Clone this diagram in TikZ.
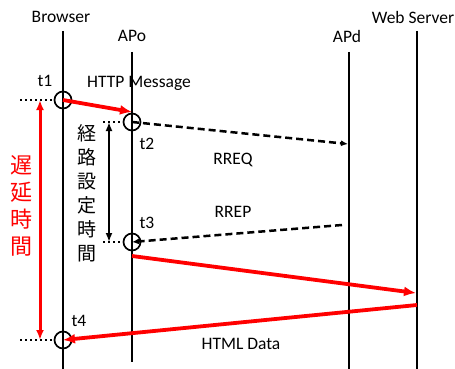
\documentclass[tikz,border=0pt]{standalone}
\usepackage{fontspec}
\setmainfont{Carlito}
\newfontfamily\jpfont{Noto Sans CJK JP}
\usetikzlibrary{arrows.meta}

\begin{document}
\begin{tikzpicture}[x=1pt,y=-1pt,>=latex,font=\fontsize{17.5}{20}\selectfont,
    life/.style={line width=2.6pt},
    msg/.style={red,line width=3.8pt,-{Latex[length=12pt,width=10pt]}},
    ctrl/.style={line width=2.5pt,dash pattern=on 7pt off 4pt,-{Latex[length=7pt,width=6pt]}},
    tick/.style={line width=2.5pt,dash pattern=on 2.2pt off 2.8pt},
    stamp/.style={circle,draw,line width=1.7pt,minimum size=17pt,inner sep=0pt}]
    \useasboundingbox (0,0) rectangle (455,369);
    % lifelines
    \node (browser) at (61,17) {Browser};
    \node (apo) at (132,36) {APo};
    \node (apd) at (347,36) {APd};
    \node (server) at (413,17) {Web Server};
    \coordinate (browserTop) at (63,31);  \coordinate (browserBot) at (63,369);
    \coordinate (apoTop) at (132,52);     \coordinate (apoBot) at (132,362);
    \coordinate (apdTop) at (349,52);     \coordinate (apdBot) at (349,369);
    \coordinate (serverTop) at (417,31);  \coordinate (serverBot) at (417,369);
    \draw[life] (browserTop) -- (browserBot);
    \draw[life] (apoTop) -- (apoBot);
    \draw[life] (apdTop) -- (apdBot);
    \draw[life] (serverTop) -- (serverBot);
    % time stamps
    \node[stamp] (t1) at (63,100) {};
    \node[stamp] (t2) at (132,122) {};
    \node[stamp] (t3) at (132,242) {};
    \node[stamp] (t4) at (63,340) {};
    \node (t1lbl) at (45,81) {t1};
    \node (t2lbl) at (147,144) {t2};
    \node (t3lbl) at (147,223) {t3};
    \node (t4lbl) at (79,321) {t4};
    \coordinate (t1out) at (20,100);
    \coordinate (t2out) at (103,122);
    \coordinate (t3out) at (103,242);
    \coordinate (t4out) at (20,340);
    \draw[tick] (t1out) -- (t1);
    \draw[tick] (t2out) -- (t2);
    \draw[tick] (t3out) -- (t3);
    \draw[tick] (t4out) -- (t4);
    % messages
    \coordinate (httpEnd) at (132,112);
    \coordinate (rreqEnd) at (348,144);
    \coordinate (rrepStart) at (342,225);
    \coordinate (fwdStart) at (132,256);
    \coordinate (fwdEnd) at (416,293);
    \coordinate (dataStart) at (417,305);
    \draw[msg] (t1.center) -- (httpEnd);
    \draw[ctrl] (t2.center) -- (rreqEnd);
    \draw[ctrl] (rrepStart) -- (t3.center);
    \draw[msg] (fwdStart) -- (fwdEnd);
    \draw[msg] (dataStart) -- (t4.center);
    \node (http) at (139,83) {HTTP Message};
    \node (rreq) at (233,160) {RREQ};
    \node (rrep) at (233,212) {RREP};
    \node (html) at (241,344) {HTML Data};
    % intervals
    \coordinate (delayTop) at (40,100);   \coordinate (delayBot) at (40,340);
    \coordinate (routeTop) at (109,122);  \coordinate (routeBot) at (109,242);
    \draw[red,line width=3pt,{Latex[length=10pt,width=8pt]}-{Latex[length=10pt,width=8pt]}] (delayTop) -- (delayBot);
    \draw[line width=2pt,{Latex[length=9pt,width=7pt]}-{Latex[length=9pt,width=7pt]}] (routeTop) -- (routeBot);
    \node[red,align=center,font=\jpfont\fontsize{22}{27}\selectfont] (delay) at (21,206) {遅\\延\\時\\間};
    \node[align=center,font=\jpfont\fontsize{19}{24}\selectfont] (route) at (87,193) {経\\路\\設\\定\\時\\間};
\end{tikzpicture}
\end{document}
